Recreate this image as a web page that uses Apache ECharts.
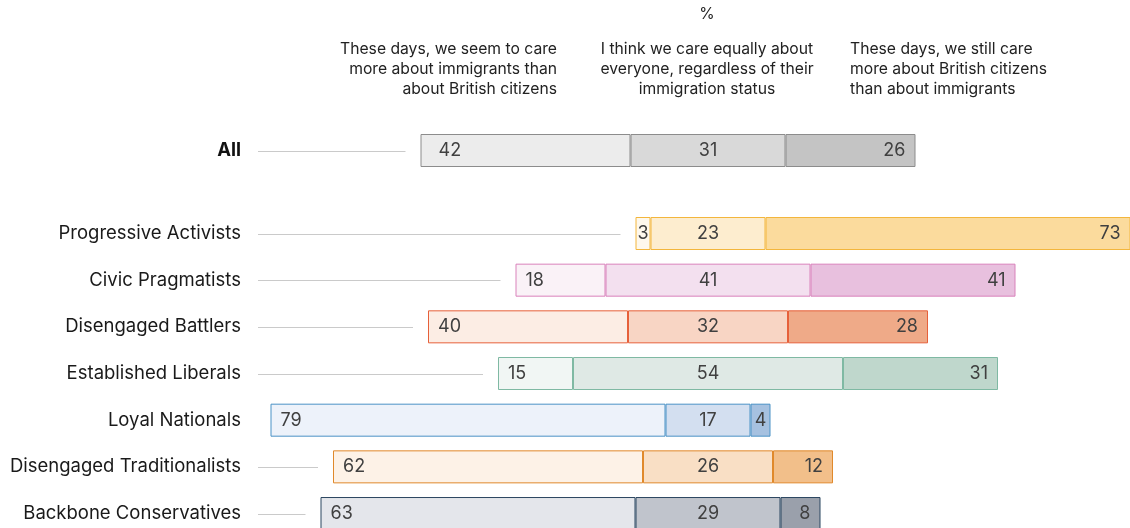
<!DOCTYPE html>
<html>
<head>
<meta charset="utf-8">
<script src="https://cdn.jsdelivr.net/npm/echarts@6/dist/echarts.min.js"></script>
<style>
  html, body { margin: 0; padding: 0; background: #ffffff; }
  #chart { width: 1130px; height: 528px; }
</style>
</head>
<body>
<div id="chart"></div>
<script>
// ---- Data -------------------------------------------------------------
const unitLabel = '%';
const answerLabels = [
  'These days, we seem to care\nmore about immigrants than\nabout British citizens',
  'I think we care equally about\neveryone, regardless of their\nimmigration status',
  'These days, we still care\nmore about British citizens\nthan about immigrants'
];

const totalName = ['All'];
const totalMoreImmigrants = [42];
const totalEqually = [31];
const totalMoreCitizens = [26];

const segments = [
  'Progressive Activists',
  'Civic Pragmatists',
  'Disengaged Battlers',
  'Established Liberals',
  'Loyal Nationals',
  'Disengaged Traditionalists',
  'Backbone Conservatives'
];
const moreImmigrants = [3, 18, 40, 15, 79, 62, 63];
const careEqually    = [23, 41, 32, 54, 17, 26, 29];
const moreCitizens   = [73, 41, 28, 31, 4, 12, 8];

// ---- Styling ----------------------------------------------------------
// [light, mid, dark, border] per row
const totalColors = [['#ececec', '#d9d9d9', '#c4c4c4', '#8c8c8c']];
const segmentColors = [
  ['#fef8ec', '#fdedcf', '#fbdb9d', '#f3b63c'],
  ['#faf2f7', '#f3e0ef', '#e8c0de', '#d982bb'],
  ['#fcede4', '#f8d5c4', '#efaa88', '#e6603a'],
  ['#f1f6f4', '#dfe9e5', '#bfd7cc', '#7fb9a3'],
  ['#edf2fa', '#d3dff0', '#a6c1e0', '#4a92c6'],
  ['#fdf2e7', '#f9dfc5', '#f2bf8a', '#e0892b'],
  ['#e4e6eb', '#c0c4cc', '#9aa0ab', '#2b4660']
];

const FONT = 'Inter, "Noto Sans", sans-serif';
const CENTER = 90;          // axis value where the middle answer is centred
const AXIS_MAX = 174.4;
const ROW = 46.67;          // row pitch in px

function bases(left, mid) {
  return left.map((v, i) => +(CENTER - v - mid[i] / 2).toFixed(2));
}

function segItems(values, colors, k) {
  return values.map((v, i) => ({
    value: v,
    itemStyle: { color: colors[i][k], borderColor: colors[i][3], borderWidth: 1 }
  }));
}

function labelFor(kind, pad) {
  return {
    show: true,
    color: '#404040',
    fontFamily: FONT,
    fontSize: 18,
    distance: pad,
    position: kind === 'mid' ? 'inside' : (kind === 'left' ? 'insideLeft' : 'insideRight')
  };
}

function withSmallCentered(items) {
  return items.map(it => it.value < 6
    ? Object.assign({}, it, { label: { position: 'inside' } })
    : it);
}

function leaderItem(params, api) {
  const p0 = api.coord([0, api.value(0)]);
  const x1 = api.coord([api.value(1), api.value(0)])[0] - 15;
  if (x1 - p0[0] < 10) return null;
  const yy = Math.round(p0[1]) + 0.5;
  return {
    type: 'line',
    shape: { x1: p0[0], y1: yy, x2: x1, y2: yy },
    style: { stroke: '#cacaca', lineWidth: 1 }
  };
}

function rowSeries(gridIdx, left, mid, right, colors, leftPad) {
  const base = bases(left, mid);
  const stack = 'g' + gridIdx;
  return [
    {
      type: 'custom', xAxisIndex: gridIdx, yAxisIndex: gridIdx,
      renderItem: leaderItem,
      encode: { x: 1, y: 0 },
      data: base.map((b, i) => [i, b]),
      silent: true, z: 1
    },
    {
      type: 'bar', xAxisIndex: gridIdx, yAxisIndex: gridIdx, stack,
      barWidth: 33, silent: true,
      itemStyle: { color: 'rgba(0,0,0,0)' },
      data: base
    },
    {
      type: 'bar', xAxisIndex: gridIdx, yAxisIndex: gridIdx, stack,
      barWidth: 33, label: labelFor('left', leftPad),
      data: withSmallCentered(segItems(left, colors, 0))
    },
    {
      type: 'bar', xAxisIndex: gridIdx, yAxisIndex: gridIdx, stack,
      barWidth: 33, label: labelFor('mid', 0),
      data: segItems(mid, colors, 1)
    },
    {
      type: 'bar', xAxisIndex: gridIdx, yAxisIndex: gridIdx, stack,
      barWidth: 33, label: labelFor('right', 10),
      data: withSmallCentered(segItems(right, colors, 2))
    }
  ];
}

const chart = echarts.init(document.getElementById('chart'), null, { renderer: 'canvas' });

const xAxisBase = { type: 'value', min: 0, max: AXIS_MAX, show: false };
const yAxisBase = {
  type: 'category', inverse: true,
  axisLine: { show: false }, axisTick: { show: false }, splitLine: { show: false }
};

// First and last segment rows sit on the grid edges (boundaryGap: false)
const firstRowY = 233.5;
const segGridHeight = ROW * (segments.length - 1);

chart.setOption({
  backgroundColor: '#ffffff',
  animation: false,
  textStyle: { fontFamily: FONT },
  grid: [
    { left: 258, right: 0, top: 150.5 - ROW / 2, height: ROW },
    { left: 258, right: 0, top: firstRowY, height: segGridHeight }
  ],
  xAxis: [
    Object.assign({ gridIndex: 0 }, xAxisBase),
    Object.assign({ gridIndex: 1 }, xAxisBase)
  ],
  yAxis: [
    Object.assign({ gridIndex: 0, data: totalName,
      axisLabel: { margin: 17, color: '#111', fontSize: 18.5, fontWeight: 'bold', fontFamily: FONT } }, yAxisBase),
    Object.assign({ gridIndex: 1, data: segments, boundaryGap: false,
      axisLabel: { margin: 17, color: '#1a1a1a', fontSize: 18.5, fontFamily: FONT } }, yAxisBase)
  ],
  graphic: [
    { type: 'text', x: 707, y: 14, style: { text: unitLabel, fill: '#222', font: '15.7px ' + FONT, align: 'center', verticalAlign: 'middle' } },
    { type: 'text', x: 557, y: 39.5, style: { text: answerLabels[0], fill: '#222', font: '15.7px ' + FONT, lineHeight: 20, align: 'right', verticalAlign: 'top' } },
    { type: 'text', x: 707, y: 39.5, style: { text: answerLabels[1], fill: '#222', font: '15.7px ' + FONT, lineHeight: 20, align: 'center', verticalAlign: 'top' } },
    { type: 'text', x: 850, y: 39.5, style: { text: answerLabels[2], fill: '#222', font: '15.7px ' + FONT, lineHeight: 20, align: 'left', verticalAlign: 'top' } }
  ],
  series: [].concat(
    rowSeries(0, totalMoreImmigrants, totalEqually, totalMoreCitizens, totalColors, 18),
    rowSeries(1, moreImmigrants, careEqually, moreCitizens, segmentColors, 10)
  )
});
</script>
</body>
</html>
